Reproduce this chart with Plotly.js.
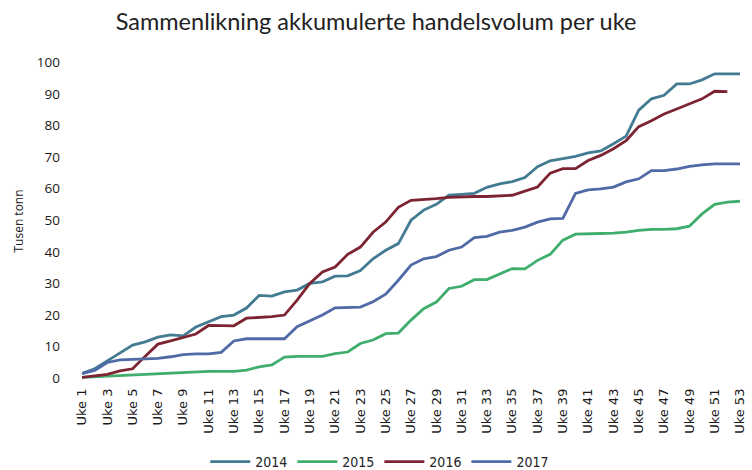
<!DOCTYPE html>
<html>
<head>
<meta charset="utf-8">
<script src="https://cdn.plot.ly/plotly-3.0.1.min.js"></script>
<style>html,body{margin:0;padding:0;background:#fff;}#chart{width:752px;height:470px;}</style>
</head>
<body>
<div id="chart"></div>
<script>
var weeks = [];
for (var i = 1; i <= 53; i++) weeks.push("Uke " + i);
var tickLabels = ["Uke 1","Uke 3","Uke 5","Uke 7","Uke 9","Uke 11","Uke 13","Uke 15","Uke 17","Uke 19","Uke 21","Uke 23","Uke 25","Uke 27","Uke 29","Uke 31","Uke 33","Uke 35","Uke 37","Uke 39","Uke 41","Uke 43","Uke 45","Uke 47","Uke 49","Uke 51","Uke 53"];

var v2014 = [1.5,3,5.5,8,10.5,11.5,13,13.7,13.4,16.2,17.9,19.5,20,22.2,26.2,26,27.3,27.9,30,30.5,32.3,32.4,34.1,37.8,40.5,42.6,50,53.2,55,57.9,58.2,58.5,60.4,61.5,62.2,63.5,66.9,68.8,69.5,70.2,71.3,71.9,74.2,76.6,84.8,88.4,89.5,93.1,93.1,94.4,96.3,96.3,96.3];
var v2015 = [0.3,0.5,0.7,0.9,1.1,1.3,1.6,1.6,1.8,2.2,2.2,2.2,2.2,2.6,3.6,4.2,6.7,6.9,6.9,6.9,7.8,8.3,11,12.1,14.1,14.3,18.4,22,24.1,28.4,29.1,31.2,31.2,33,34.7,34.6,37.3,39.2,43.7,45.6,45.6,45.8,45.9,46.2,46.8,47.1,47.1,47.3,48.1,52,55,55.7,56];
var v2016 = [0.3,0.8,1.2,2.3,3,7,10.8,11.8,12.8,14,16.7,16.7,16.6,19,19.2,19.5,20,24.7,30,33.6,35.2,39.2,41.5,46.2,49.4,54.1,56.3,56.5,56.8,57.2,57.4,57.5,57.5,57.6,57.9,59.2,60.5,64.9,66.3,66.3,68.9,70.5,72.6,75.2,79.6,81.5,83.6,85.2,86.8,88.4,90.8,90.7,null];
var v2017 = [1.5,2.5,5,5.8,6,6.2,6.3,6.8,7.5,7.7,7.7,8.2,11.8,12.5,12.5,12.5,12.5,16.3,18.1,20,22.3,22.5,22.5,24.2,26.6,31,35.8,37.8,38.5,40.5,41.5,44.5,44.9,46.2,46.8,47.8,49.4,50.4,50.6,58.5,59.6,59.9,60.5,62.1,63.1,65.7,65.7,66.2,67,67.5,67.8,67.8,67.8];

var series = [
  {name: "2014", y: v2014, color: "#437b92"},
  {name: "2015", y: v2015, color: "#3fae6c"},
  {name: "2016", y: v2016, color: "#7d2433"},
  {name: "2017", y: v2017, color: "#506aa6"}
];

var traces = series.map(function(s){
  return {type: "scatter", mode: "lines", name: s.name, x: weeks, y: s.y,
          line: {color: s.color, width: 2.8}, hoverinfo: "x+y+name"};
});

var layout = {
  width: 752, height: 470,
  margin: {l: 82, r: 12, t: 59, b: 87},
  paper_bgcolor: "#fff", plot_bgcolor: "#fff",
  font: {family: "Open Sans, DejaVu Sans, sans-serif", color: "#222"},
  title: {text: "Sammenlikning akkumulerte handelsvolum per uke",
          font: {family: "Lato, Open Sans, sans-serif", size: 23.5, color: "#222"},
          x: 0.5, xanchor: "center", y: 0.953, yanchor: "middle"},
  xaxis: {type: "category", range: [0, 52], tickmode: "array", tickvals: tickLabels, ticktext: tickLabels,
          tickangle: -90, tickfont: {family: "DejaVu Sans, sans-serif", size: 13, color: "#1a1a1a"},
          showgrid: false, zeroline: false, showline: false, ticks: "", ticklabelstandoff: 2},
  yaxis: {range: [-1.5, 101], tickmode: "array", tickvals: [0,10,20,30,40,50,60,70,80,90,100],
          tickfont: {size: 13.5, color: "#1a1a1a"}, showgrid: false, zeroline: false, showline: false,
          ticks: "", ticklabelstandoff: 21,
          title: {text: "Tusen tonn", font: {size: 12, color: "#222"}, standoff: 10}},
  showlegend: true,
  legend: {orientation: "h", x: 0.505, xanchor: "center", xref: "container",
           y: 0.017, yanchor: "middle", yref: "container",
           font: {family: "DejaVu Sans Condensed, DejaVu Sans, sans-serif", size: 14, color: "#222"},
           traceorder: "normal", itemwidth: 40}
};

Plotly.newPlot("chart", traces, layout, {displayModeBar: false, staticPlot: true});
</script>
</body>
</html>
